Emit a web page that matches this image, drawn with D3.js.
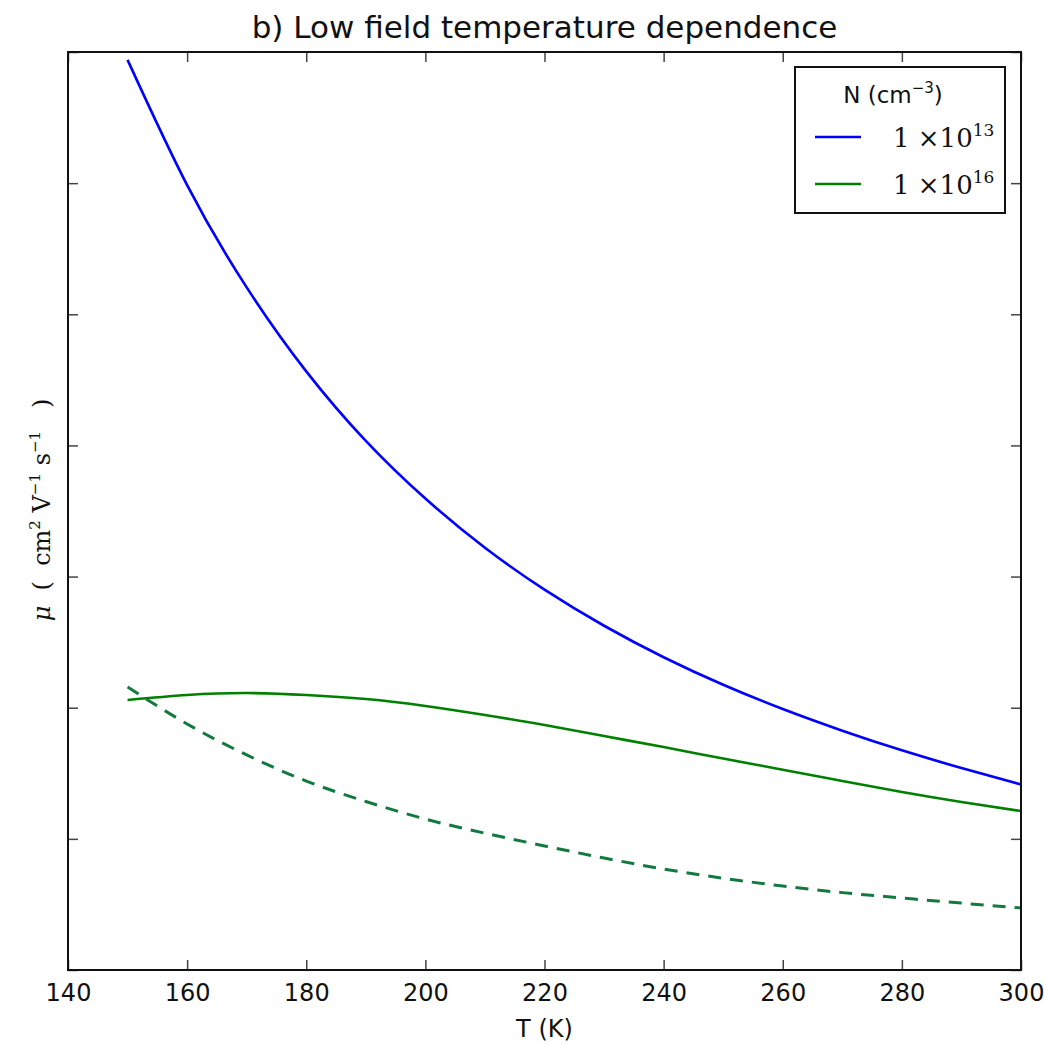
<!DOCTYPE html>
<html lang="en">
  <head>
    <meta charset="utf-8">
    <title>Low field temperature dependence</title>
    <script src="https://d3js.org/d3.v7.min.js"></script>
    <style>
      body { margin: 0; background: #fff; }
      text { font-family: "DejaVu Sans", sans-serif; }
    </style>
  </head>
  <body>
    <script type="text/javascript">
    // values (mobility in arbitrary units, y axis has no labels)
    var temps = [150, 160, 170, 180, 190, 200, 210, 220, 230, 240, 250, 260, 270, 280, 290, 300];
    var muN13 = [6940, 5985, 5205, 4565, 4035, 3595, 3220, 2900, 2625, 2385, 2175, 1990, 1825, 1675, 1540, 1415];
    var muN16 = [2059, 2097, 2112, 2097, 2066, 2013, 1944, 1868, 1784, 1700, 1612, 1527, 1441, 1357, 1281, 1212];
    var muN16dash = [2158, 1876, 1640, 1441, 1285, 1151, 1043, 946, 854, 770, 700, 640, 590, 549, 510, 473];
    var xTicks = [140, 160, 180, 200, 220, 240, 260, 280, 300];
    var yTicks = [0, 1000, 2000, 3000, 4000, 5000, 6000, 7000];

    var w = 1044, h = 1045;
    var plotL = 68, plotR = 1021, plotT = 52, plotB = 970;

    var svg = d3.select("body").append("svg")
                .attr("width", w)
                .attr("height", h);

    var xScale = d3.scaleLinear().domain([140, 300]).range([plotL, plotR]);
    var yScale = d3.scaleLinear().domain([0, 7000]).range([plotB, plotT]);

    // ticks, all pointing into the plot
    var xAxis = d3.axisBottom(xScale).tickValues(xTicks).tickSizeInner(-10).tickSizeOuter(0).tickPadding(14);
    var xTop = d3.axisTop(xScale).tickValues(xTicks).tickSizeInner(-10).tickSizeOuter(0).tickFormat("");
    var yAxis = d3.axisLeft(yScale).tickValues(yTicks).tickSizeInner(-10).tickSizeOuter(0).tickFormat("");
    var yRight = d3.axisRight(yScale).tickValues(yTicks).tickSizeInner(-10).tickSizeOuter(0).tickFormat("");

    var gx = svg.append("g").attr("transform", "translate(0," + plotB + ")").call(xAxis);
    gx.selectAll("text").style("font-size", "24px").style("fill", "#111");
    svg.append("g").attr("transform", "translate(0," + plotT + ")").call(xTop);
    svg.append("g").attr("transform", "translate(" + plotL + ",0)").call(yAxis);
    svg.append("g").attr("transform", "translate(" + plotR + ",0)").call(yRight);
    svg.selectAll(".domain").remove();
    svg.selectAll(".tick line").attr("stroke", "#444").attr("stroke-width", 1.5);

    var line = d3.line()
                 .x(function(d) { return xScale(d[0]); })
                 .y(function(d) { return yScale(d[1]); })
                 .curve(d3.curveNatural);

    var series = [
      { vals: muN16dash, color: "#137a3f", dash: "13,9", width: 3 },
      { vals: muN16, color: "#008000", dash: null, width: 2.6 },
      { vals: muN13, color: "#0000ff", dash: null, width: 2.6 }
    ];

    series.forEach(function(s) {
      svg.append("path")
         .datum(temps.map(function(t, i) { return [t, s.vals[i]]; }))
         .attr("d", line)
         .attr("fill", "none")
         .attr("stroke", s.color)
         .attr("stroke-width", s.width)
         .attr("stroke-dasharray", s.dash);
    });

    // frame
    svg.append("rect")
       .attr("x", plotL).attr("y", plotT)
       .attr("width", plotR - plotL).attr("height", plotB - plotT)
       .attr("fill", "none").attr("stroke", "#111").attr("stroke-width", 2);

    // title and axis labels
    svg.append("text")
       .attr("x", (plotL + plotR) / 2).attr("y", 38)
       .attr("text-anchor", "middle")
       .style("font-size", "31px").style("fill", "#111")
       .text("b) Low field temperature dependence");

    svg.append("text")
       .attr("x", (plotL + plotR) / 2).attr("y", 1037)
       .attr("text-anchor", "middle")
       .style("font-size", "24px").style("fill", "#111")
       .text("T (K)");

    var ylab = svg.append("text")
       .attr("transform", "translate(50," + 510 + ") rotate(-90)")
       .attr("text-anchor", "middle")
       .style("font-family", "'DejaVu Serif', serif")
       .style("font-size", "24px").style("fill", "#111")
       .attr("xml:space", "preserve");
    ylab.append("tspan").style("font-style", "italic").text("\u03bc");
    ylab.append("tspan").text("  (  cm");
    ylab.append("tspan").attr("dy", -10).style("font-size", "15px").text("2");
    ylab.append("tspan").attr("dy", 10).text(" V");
    ylab.append("tspan").attr("dy", -10).style("font-size", "15px").text("\u22121");
    ylab.append("tspan").attr("dy", 10).text(" s");
    ylab.append("tspan").attr("dy", -10).style("font-size", "15px").text("\u22121");
    ylab.append("tspan").attr("dy", 10).text("   )");

    // legend
    var lg = svg.append("g");
    lg.append("rect")
      .attr("x", 795).attr("y", 67).attr("width", 210).attr("height", 146)
      .attr("fill", "#fff").attr("stroke", "#111").attr("stroke-width", 2);

    var lt = lg.append("text")
      .attr("x", 893).attr("y", 103).attr("text-anchor", "middle")
      .style("font-size", "23px").style("fill", "#111");
    lt.append("tspan").text("N (cm");
    lt.append("tspan").attr("dy", -10).style("font-size", "15px").text("\u22123");
    lt.append("tspan").attr("dy", 10).text(")");

    var legendItems = [
      { color: "#0000ff", exp: "13", y: 137 },
      { color: "#008000", exp: "16", y: 184 }
    ];
    legendItems.forEach(function(d) {
      lg.append("line")
        .attr("x1", 815).attr("x2", 861).attr("y1", d.y).attr("y2", d.y)
        .attr("stroke", d.color).attr("stroke-width", 2.6);
      var t = lg.append("text")
        .attr("x", 893).attr("y", d.y + 10)
        .style("font-family", "'DejaVu Serif', serif")
        .style("font-size", "26px").style("fill", "#111");
      t.append("tspan").text("1 \u00d710");
      t.append("tspan").attr("dy", -11).style("font-size", "17px").text(d.exp);
    });
    </script>
  </body>
</html>
